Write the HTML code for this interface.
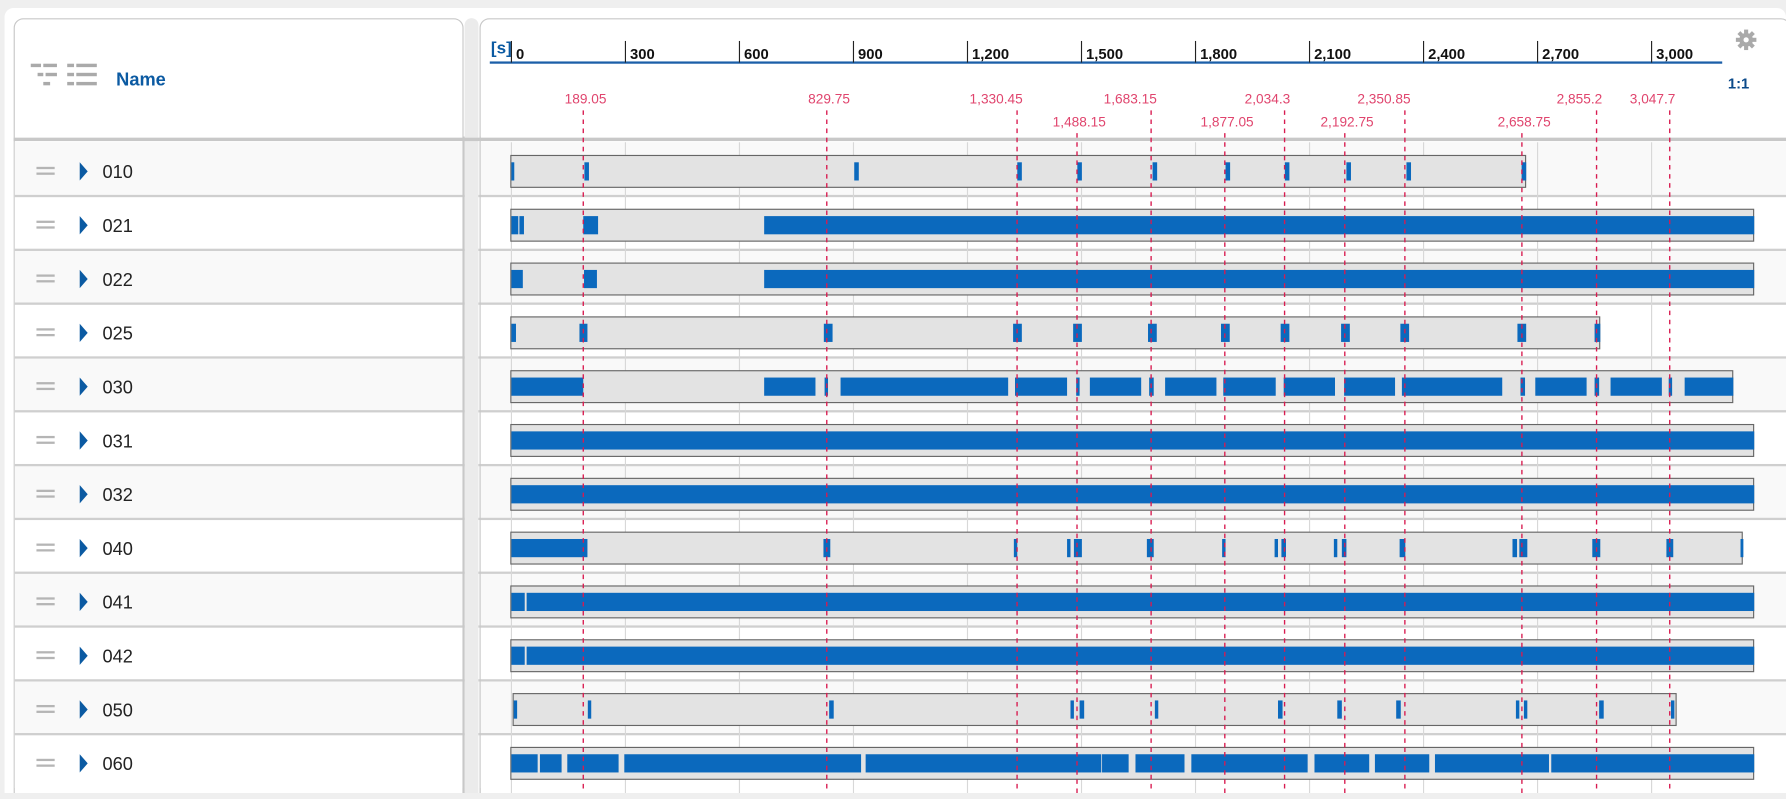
<!DOCTYPE html>
<html><head><meta charset="utf-8">
<style>
html,body{margin:0;padding:0;background:#efefef;overflow:hidden;width:1786px;height:793px;font-family:"Liberation Sans",sans-serif;}
#wrap{position:absolute;left:0;top:0;width:1568px;height:697px;transform:scale(1.13903,1.13772);transform-origin:0 0;}
</style></head><body>
<div id="wrap">
<svg id="svg" width="1568" height="697" xmlns="http://www.w3.org/2000/svg">
  <rect x="4" y="7" width="1564" height="700" rx="8" fill="#fff"/>
  <rect x="12.5" y="16.5" width="394" height="700" rx="8" fill="#fff" stroke="#c8c8c8"/>
  <rect x="408" y="16" width="12" height="700" rx="6" fill="#ebebeb"/>
  <rect x="421.5" y="16.5" width="1150" height="700" rx="8" fill="#fff" stroke="#c8c8c8"/>
  <g id="rowsBg"></g>
  <rect x="12" y="121" width="1556" height="3" fill="#c8c8c8"/>
  <g fill="#aaa">
    <rect x="27" y="56" width="9" height="3"/><rect x="38" y="56" width="12" height="3"/>
    <rect x="33" y="64" width="5" height="3"/><rect x="40" y="64" width="10" height="3"/>
    <rect x="38" y="72" width="6" height="3"/>
    <rect x="59" y="56" width="6" height="3"/><rect x="67" y="56" width="18" height="3"/>
    <rect x="59" y="64" width="6" height="3"/><rect x="67" y="64" width="18" height="3"/>
    <rect x="59" y="72" width="6" height="3"/><rect x="67" y="72" width="18" height="3"/>
  </g>
  <text x="102" y="75" font-size="16" font-weight="bold" fill="#0b5aa2">Name</text>
  <text x="431" y="47" font-size="15" font-weight="bold" fill="#0b5aa2">[s]</text>
  <rect x="430" y="54" width="1082" height="2" fill="#1b5fa8"/>
  <text x="1517" y="78" font-size="13" font-weight="bold" fill="#0b4a8a">1:1</text>
  <g transform="translate(1533,35)">
    <circle r="6" fill="#aaa"/>
    <g fill="#aaa"><rect x="-1.8" y="-9" width="3.6" height="18"/><rect x="-9" y="-1.8" width="18" height="3.6"/>
    <rect x="-1.8" y="-9" width="3.6" height="18" transform="rotate(45)"/><rect x="-1.8" y="-9" width="3.6" height="18" transform="rotate(-45)"/></g>
    <circle r="2.3" fill="#fff"/>
  </g>
  <g id="axis"></g>
  <g id="grid"></g>
  <g id="bars"></g>
  <g id="markers"></g>
  <g id="names"></g>
</svg>
</div>
<script>
const tickValues=[0,300,600,900,1200,1500,1800,2100,2400,2700,3000];
const tickLabels=["0","300","600","900","1,200","1,500","1,800","2,100","2,400","2,700","3,000"];
const markerValues=[189.05,829.75,1330.45,1488.15,1683.15,1877.05,2034.3,2192.75,2350.85,2658.75,2855.2,3047.7];
const markerLabels=["189.05","829.75","1,330.45","1,488.15","1,683.15","1,877.05","2,034.3","2,192.75","2,350.85","2,658.75","2,855.2","3,047.7"];
const markerLevel=[0,0,0,1,0,1,0,1,0,1,0,0];
const rowNames=["010","021","022","025","030","031","032","040","041","042","050","060"];
const rowSpans=[[0,2670],[0,3270],[0,3270],[0,2865],[0,3215],[0,3270],[0,3270],[0,3240],[0,3270],[0,3270],[6,3066],[0,3270]];
const rowSegments=[
 [[0,6],[192,204],[902,914],[1331,1343],[1489,1501],[1687,1699],[1879,1891],[2035,2047],[2197,2209],[2355,2367],[2658,2670]],
 [[0,18],[21,33],[189,228],[665,3270]],
 [[0,30],[191,225],[665,3270]],
 [[0,12],[179,200],[822,845],[1320,1343],[1478,1501],[1675,1698],[1867,1890],[2024,2047],[2183,2206],[2339,2362],[2647,2670],[2850,2865]],
 [[0,189],[665,800],[824,833],[866,1307],[1325,1462],[1486,1495],[1522,1657],[1678,1690],[1720,1855],[1873,2011],[2032,2167],[2191,2325],[2343,2607],[2655,2667],[2694,2829],[2850,2862],[2892,3027],[3045,3054],[3087,3215]],
 [[0,3270]],
 [[0,3270]],
 [[0,200],[821,839],[1322,1331],[1462,1471],[1480,1501],[1672,1690],[1870,1879],[2008,2017],[2026,2038],[2164,2173],[2185,2197],[2337,2352],[2634,2646],[2652,2673],[2844,2865],[3039,3057],[3234,3240]],
 [[0,35],[40,3270]],
 [[0,35],[40,3270]],
 [[6,15],[201,210],[836,848],[1471,1480],[1495,1507],[1693,1702],[2017,2029],[2173,2185],[2328,2340],[2643,2652],[2664,2673],[2862,2874],[3051,3060]],
 [[0,69],[75,132],[147,282],[297,920],[932,1552],[1554,1624],[1642,1771],[1789,2095],[2113,2257],[2272,2415],[2430,2730],[2736,3270]]
];
const NS="http://www.w3.org/2000/svg";
const X0=449,X1=1450,T1=3000;
function xs(v){return X0+v*(X1-X0)/T1;}
const ROW0=125,RH=47.3;
function rowY(i){return ROW0+i*RH;}
function mk(tag,attrs,parent){const e=document.createElementNS(NS,tag);for(const k in attrs)e.setAttribute(k,attrs[k]);parent.appendChild(e);return e;}
const axis=document.getElementById('axis'),grid=document.getElementById('grid'),bars=document.getElementById('bars'),markers=document.getElementById('markers'),names=document.getElementById('names'),rowsBg=document.getElementById('rowsBg');
const bottom=697;
rowNames.forEach((n,i)=>{
  const y=rowY(i);
  const r=mk('rect',{x:13,y:y,width:1555,height:RH,fill:i%2===0?'#f9f9f9':'#fff'},rowsBg);
  
  
  if(i>0){const s=mk('rect',{x:13,y:y-1,width:1555,height:2,fill:'#cfcfcf'},rowsBg);
    
    }
});
mk('rect',{x:406,y:120,width:2,height:600,fill:'#c8c8c8'},rowsBg);
mk('rect',{x:408,y:16,width:12,height:700,rx:6,fill:'#ebebeb'},rowsBg);
mk('rect',{x:421,y:120,width:1,height:600,fill:'#c8c8c8'},rowsBg);
tickValues.forEach((v,i)=>{
  const x=xs(v);
  const t=mk('line',{x1:x,y1:36,x2:x,y2:55,stroke:'#222','stroke-width':1},axis);
  
  
  const l=mk('text',{x:x+4,y:52,'font-size':13,'font-weight':'bold',fill:'#111'},axis);
  l.textContent=tickLabels[i];
  
  
  const g=mk('line',{x1:x,y1:125,x2:x,y2:bottom,stroke:'#d8d8d8','stroke-width':1},grid);
  
  
});
rowNames.forEach((n,i)=>{
  const cy=rowY(i)+RH/2+2;
  const h=mk('g',{fill:'#b5b5b5'},names);
  mk('rect',{x:32,y:cy-4,width:16,height:2},h);
  mk('rect',{x:32,y:cy+1,width:16,height:2},h);
  
  
  const tr=mk('path',{d:`M70 ${cy-8} L77 ${cy} L70 ${cy+8} Z`,fill:'#0b5aa2'},names);
  
  
  const t=mk('text',{x:90,y:cy+6,'font-size':16,fill:'#222'},names);
  t.textContent=n;
  
  
  const sp=rowSpans[i];
  const b=mk('rect',{x:xs(sp[0])-0.5,y:cy-14,width:xs(sp[1])-xs(sp[0]),height:28,fill:'#e3e3e3',stroke:'#666','stroke-width':1},bars);
  
  
  rowSegments[i].forEach(sg=>{
    const x=xs(sg[0]),w=Math.max(2.5,xs(sg[1])-x);
    const s=mk('rect',{x:x,y:cy-8,width:w,height:16,fill:'#0b69bd'},bars);
    
    
  });
});
markerValues.forEach((v,i)=>{
  const x=xs(v);
  const lvl=markerLevel[i];
  const ly=lvl?111:91;
  const anchor=(lvl||i<2)?'middle':'end';
  const lx=anchor==='middle'?x+2:x+5;
  const t=mk('text',{x:lx,y:ly,'font-size':12,fill:'#e0456e','text-anchor':anchor},markers);
  t.textContent=markerLabels[i];
  
  
  const l=mk('line',{x1:x,y1:ly+6,x2:x,y2:bottom,stroke:'#d81b50','stroke-width':1.2,'stroke-dasharray':'4,4'},markers);
  
  
});
</script>
</body></html>
